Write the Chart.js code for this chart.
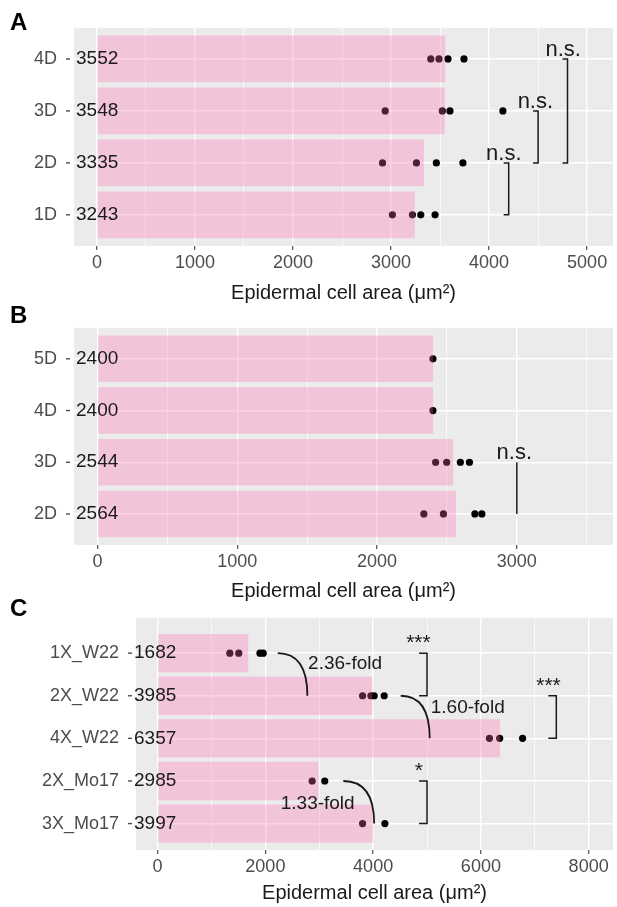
<!DOCTYPE html>
<html>
<head>
<meta charset="utf-8">
<script src="https://cdn.jsdelivr.net/npm/chart.js@4"></script>
<style>
  html, body { margin: 0; padding: 0; background: #fff; }
  body { width: 617px; height: 907px; position: relative; overflow: hidden; }
  .panel { position: absolute; left: 0; width: 617px; }
</style>
</head>
<body>
<div class="panel" style="top:0;height:307px"><canvas id="chartA"></canvas></div>
<div class="panel" style="top:300px;height:305px"><canvas id="chartB"></canvas></div>
<div class="panel" style="top:590px;height:317px"><canvas id="chartC"></canvas></div>
<script>
// panel A
const catsA = ['4D', '3D', '2D', '1D']
const meansA = [3552, 3548, 3335, 3243]
const cellsA = [
  [3405, 3489, 3581, 3744],
  [2940, 3523, 3601, 4141],
  [2913, 3259, 3462, 3733],
  [3014, 3218, 3303, 3449]
]
const majorA = [0, 1000, 2000, 3000, 4000, 5000]
const minorA = [500, 1500, 2500, 3500, 4500]
const sigA = [
  { from: '2D', to: '1D', x: 4200, lx: 4150, label: 'n.s.' },
  { from: '3D', to: '2D', x: 4500, lx: 4472, label: 'n.s.' },
  { from: '4D', to: '2D', x: 4800, lx: 4756, label: 'n.s.' }
]

// panel B
const catsB = ['5D', '4D', '3D', '2D']
const meansB = [2400, 2400, 2544, 2564]
const cellsB = [
  [2400],
  [2400],
  [2419, 2498, 2596, 2661],
  [2335, 2475, 2700, 2750]
]
const majorB = [0, 1000, 2000, 3000]
const minorB = [500, 1500, 2500, 3500]
const sigB = [
  { from: '3D', to: '2D', x: 3000, lx: 2982, label: 'n.s.' }
]

// panel C
const catsC = ['1X_W22', '2X_W22', '4X_W22', '2X_Mo17', '3X_Mo17']
const meansC = [1682, 3985, 6357, 2985, 3997]
const cellsC = [
  [1340, 1506, 1900, 1960],
  [3804, 3959, 4020, 4205],
  [6159, 6349, 6774],
  [2868, 3102],
  [3804, 4218]
]
const majorC = [0, 2000, 4000, 6000, 8000]
const minorC = [1000, 3000, 5000, 7000]
const sigC = [
  { from: '1X_W22', to: '2X_W22', x: 5000, lx: 4840, label: '***' },
  { from: '2X_W22', to: '4X_W22', x: 7400, lx: 7255, label: '***' },
  { from: '2X_Mo17', to: '3X_Mo17', x: 5000, lx: 4850, label: '*' }
]
const foldsC = [
  { from: '1X_W22', to: '2X_W22', x1: 2230, x2: 2780, lx: 3479, dy: 0.25, label: '2.36-fold' },
  { from: '2X_W22', to: '4X_W22', x1: 4512, x2: 5050, lx: 5756, dy: 0.28, label: '1.60-fold' },
  { from: '2X_Mo17', to: '3X_Mo17', x1: 3447, x2: 4020, lx: 2971, dy: 0.54, label: '1.33-fold' }
]

const FONT = "'Liberation Sans', Arial, sans-serif"
Chart.defaults.font.family = FONT

function decor (p) {
  const pos = name => p.cats.indexOf(name) + 1
  return {
    id: 'decor',
    beforeDraw (chart) {
      const { ctx, chartArea: a } = chart
      ctx.save()
      ctx.fillStyle = '#ebebeb'
      ctx.fillRect(a.left, a.top, a.right - a.left, a.bottom - a.top)
      ctx.restore()
    },
    afterDatasetsDraw (chart) {
      const { ctx, chartArea: a, scales: { x, y } } = chart
      ctx.save()

      // hyphen + mean value next to each category
      ctx.textBaseline = 'middle'
      ctx.textAlign = 'left'
      ctx.font = '19px ' + FONT
      p.means.forEach((m, i) => {
        const py = y.getPixelForValue(i + 1)
        ctx.fillStyle = '#4d4d4d'
        ctx.fillRect(a.left - 8, py - 0.7, 4, 1.4)
        ctx.fillStyle = '#1a1a1a'
        ctx.fillText(String(m), a.left + p.numShift, py)
      })

      // significance brackets
      ctx.strokeStyle = '#1a1a1a'
      ctx.lineWidth = 1.5
      ctx.textAlign = 'center'
      ctx.textBaseline = 'alphabetic'
      ;(p.sig || []).forEach(s => {
        const px = x.getPixelForValue(s.x)
        const y1 = y.getPixelForValue(pos(s.from))
        const y2 = y.getPixelForValue(pos(s.to))
        ctx.beginPath()
        ctx.moveTo(px - p.brTick, y1)
        ctx.lineTo(px, y1)
        ctx.lineTo(px, y2)
        ctx.lineTo(px - p.brTick, y2)
        ctx.stroke()
        ctx.font = p.sigFont + 'px ' + FONT
        ctx.fillText(s.label, x.getPixelForValue(s.lx), y1 - p.labelGap)
      })

      // fold-change curves
      ctx.lineWidth = 1.8
      ctx.font = '19px ' + FONT
      ctx.textBaseline = 'middle'
      ;(p.folds || []).forEach(f => {
        const x1 = x.getPixelForValue(f.x1)
        const x2 = x.getPixelForValue(f.x2)
        const y1 = y.getPixelForValue(pos(f.from))
        const y2 = y.getPixelForValue(pos(f.to))
        ctx.beginPath()
        ctx.moveTo(x1, y1)
        ctx.quadraticCurveTo(x2, y1, x2, y2)
        ctx.stroke()
        ctx.fillText(f.label, x.getPixelForValue(f.lx), y.getPixelForValue(pos(f.from) + f.dy))
      })

      // panel letter
      ctx.font = 'bold 24px ' + FONT
      ctx.textAlign = 'left'
      ctx.textBaseline = 'middle'
      ctx.fillStyle = '#000'
      ctx.fillText(p.letter, 10, p.letterY)
      ctx.restore()
    }
  }
}

function makePanel (id, p) {
  const ticks = [...p.major, ...p.minor].sort((a, b) => a - b)
  const isMajor = v => p.major.includes(v)

  return new Chart(document.getElementById(id), {
    type: 'bar',
    data: {
      datasets: [
        {
          type: 'bar',
          indexAxis: 'y',
          data: p.means.map((m, i) => ({ x: m, y: i + 1 })),
          backgroundColor: 'rgba(255,105,180,0.3)',
          borderWidth: 0,
          categoryPercentage: 1,
          barPercentage: 0.9,
          order: 0
        },
        {
          type: 'scatter',
          data: p.cells.flatMap((vals, i) => vals.map(v => ({ x: v, y: i + 1 }))),
          backgroundColor: '#000',
          borderWidth: 0,
          pointRadius: 3.6,
          order: 1
        }
      ]
    },
    options: {
      indexAxis: 'y',
      responsive: true,
      maintainAspectRatio: false,
      animation: false,
      layout: { padding: { top: p.padTop, right: 2, bottom: 0, left: 0 } },
      plugins: { legend: { display: false }, tooltip: { enabled: false } },
      scales: {
        x: {
          type: 'linear',
          min: p.xMin,
          max: p.xMax,
          afterBuildTicks: s => { s.ticks = ticks.map(v => ({ value: v })) },
          afterFit: s => { s.height = p.xAxisH },
          ticks: {
            autoSkip: false,
            maxRotation: 0,
            padding: 2,
            color: '#4d4d4d',
            font: { size: 18 },
            callback: v => isMajor(v) ? String(v) : ''
          },
          grid: {
            color: '#ffffff',
            lineWidth: c => isMajor(c.tick.value) ? 1.4 : 0.7,
            tickColor: c => isMajor(c.tick.value) ? '#4d4d4d' : 'rgba(0,0,0,0)',
            tickLength: 4,
            tickWidth: 1.2
          },
          border: { display: false },
          title: {
            display: true,
            text: 'Epidermal cell area (μm²)',
            color: '#1a1a1a',
            font: { size: 20 },
            padding: { top: 0, bottom: 2 }
          }
        },
        y: {
          type: 'linear',
          reverse: true,
          offset: false,
          min: p.yMin,
          max: p.yMax,
          afterBuildTicks: s => { s.ticks = p.cats.map((c, i) => ({ value: i + 1 })) },
          afterFit: s => { s.width = p.yAxisW },
          ticks: {
            autoSkip: false,
            padding: 17,
            color: '#4d4d4d',
            font: { size: 18 },
            callback: v => p.cats[v - 1]
          },
          grid: { color: '#ffffff', lineWidth: 1.4, drawTicks: false, offset: false },
          border: { display: false }
        }
      }
    },
    plugins: [decor(p)]
  })
}

makePanel('chartA', {
  cats: catsA, means: meansA, cells: cellsA, major: majorA, minor: minorA, sig: sigA,
  xMin: -234, xMax: 5264, yMin: 0.4, yMax: 4.6,
  padTop: 18, xAxisH: 61, yAxisW: 74, numShift: 2,
  brTick: 5, labelGap: 3, sigFont: 22, letter: 'A', letterY: 23
})

makePanel('chartB', {
  cats: catsB, means: meansB, cells: cellsB, major: majorB, minor: minorB, sig: sigB,
  xMin: -168, xMax: 3688, yMin: 0.4, yMax: 4.6,
  padTop: 18, xAxisH: 60, yAxisW: 74, numShift: 2,
  brTick: 0, labelGap: 3, sigFont: 22, letter: 'B', letterY: 16
})

makePanel('chartC', {
  cats: catsC, means: meansC, cells: cellsC, major: majorC, minor: minorC, sig: sigC, folds: foldsC,
  xMin: -401, xMax: 8452, yMin: 0.17, yMax: 5.62,
  padTop: 23, xAxisH: 57, yAxisW: 136, numShift: -2,
  brTick: 8, labelGap: 4, sigFont: 21, letter: 'C', letterY: 19
})
</script>
</body>
</html>
